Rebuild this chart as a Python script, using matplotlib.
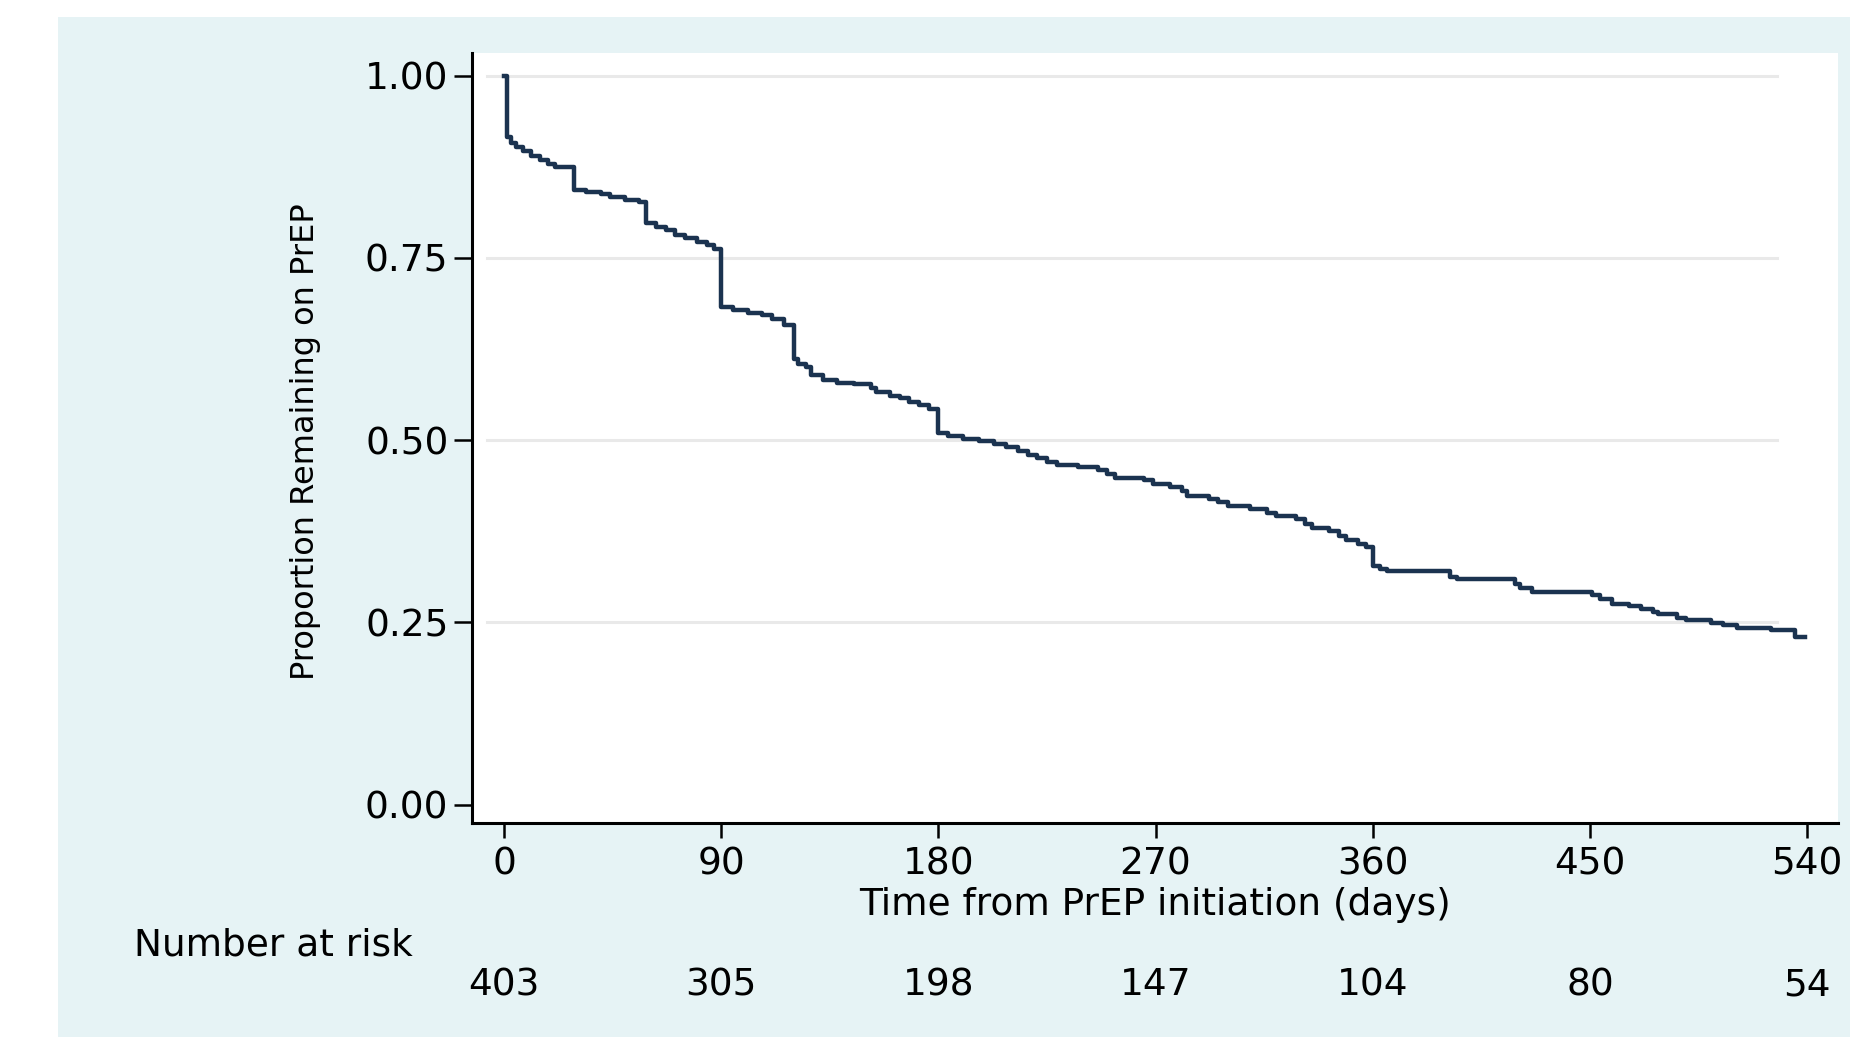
import matplotlib

matplotlib.use("Agg")
import matplotlib.pyplot as plt
from matplotlib.patches import Rectangle
from matplotlib.transforms import blended_transform_factory

plt.rcParams["font.family"] = ["DejaVu Sans"]

# Kaplan-Meier estimate (day, proportion remaining)
days = [0, 1, 3, 5, 8, 11, 15, 18, 21, 29, 34, 40, 44, 50, 56, 59, 63, 67, 71,
        75, 80, 84, 87, 90, 95, 101, 107, 111, 116, 120, 122, 125, 127, 132,
        138, 145, 152, 154, 160, 164, 168, 172, 176, 180, 184, 190, 197, 203,
        208, 213, 217, 221, 225, 229, 238, 246, 250, 253, 265, 269, 276, 281,
        283, 292, 296, 300, 309, 316, 320, 328, 332, 335, 342, 346, 349, 354,
        357, 360, 363, 366, 392, 395, 419, 421, 426, 451, 454, 459, 466, 471,
        476, 478, 486, 490, 500, 505, 511, 525, 535, 539]
surv = [1.000, 0.916, 0.908, 0.902, 0.896, 0.890, 0.884, 0.879, 0.874, 0.843,
        0.841, 0.837, 0.833, 0.830, 0.826, 0.798, 0.793, 0.788, 0.782, 0.777,
        0.772, 0.768, 0.762, 0.683, 0.679, 0.675, 0.671, 0.666, 0.658, 0.612,
        0.605, 0.600, 0.590, 0.583, 0.579, 0.577, 0.571, 0.566, 0.561, 0.558,
        0.553, 0.548, 0.543, 0.510, 0.506, 0.502, 0.499, 0.495, 0.490, 0.485,
        0.480, 0.475, 0.470, 0.466, 0.463, 0.459, 0.453, 0.448, 0.445, 0.440,
        0.436, 0.430, 0.424, 0.420, 0.415, 0.410, 0.405, 0.400, 0.396, 0.392,
        0.385, 0.379, 0.375, 0.369, 0.363, 0.358, 0.353, 0.328, 0.324, 0.320,
        0.313, 0.310, 0.303, 0.297, 0.292, 0.287, 0.282, 0.276, 0.272, 0.269,
        0.265, 0.261, 0.256, 0.253, 0.249, 0.246, 0.243, 0.240, 0.230, 0.230]

x_ticks = [0, 90, 180, 270, 360, 450, 540]
y_ticks = [0.00, 0.25, 0.50, 0.75, 1.00]
at_risk = [403, 305, 198, 147, 104, 80, 54]

W, H = 1850, 1037
FS = 27

fig = plt.figure(figsize=(W / 100, H / 100), dpi=100, facecolor="white")

# light cyan graph region behind everything
fig.patches.append(Rectangle((58 / W, 0), 1 - 58 / W, (H - 17) / H,
                             transform=fig.transFigure, facecolor="#e6f3f5",
                             edgecolor="none", zorder=-10))

ax = fig.add_axes([472 / W, (H - 823) / H, (1838 - 472) / W, (823 - 53) / H])
ax.set_facecolor("white")

for y in y_ticks[1:]:
    ax.axhline(y, xmin=0.011, xmax=0.955, color="#e9e9e9", lw=2.2, zorder=1)

ax.step(days, surv, where="post", color="#1b3350", lw=3.2, zorder=3)

ax.set_xlim(-13.3, 552.8)
ax.set_ylim(-0.025, 1.031)
ax.set_xticks(x_ticks)
ax.set_yticks(y_ticks)
ax.set_yticklabels([f"{v:.2f}" for v in y_ticks])

for side in ["top", "right"]:
    ax.spines[side].set_visible(False)
for side in ["left", "bottom"]:
    ax.spines[side].set_linewidth(2.2)
    ax.spines[side].set_color("black")

ax.tick_params(axis="x", length=11, width=1.8, pad=6, labelsize=FS)
ax.tick_params(axis="y", length=13, width=1.8, pad=4, labelsize=FS)

ax.set_xlabel("Time from PrEP initiation (days)", fontsize=FS, labelpad=3)
ax.set_ylabel("Proportion Remaining on PrEP", fontsize=23)
ax.yaxis.set_label_coords(-0.1105, 0.495)

# number at risk table
fig.text(134 / W, 1 - 945 / H, "Number at risk", fontsize=FS,
         ha="left", va="center")
risk_tf = blended_transform_factory(ax.transData, fig.transFigure)
for t, n in zip(x_ticks, at_risk):
    ax.text(t, 1 - 985 / H, str(n), fontsize=FS, ha="center", va="center",
            transform=risk_tf)

fig.savefig("out.png", dpi=100, facecolor=fig.get_facecolor())
